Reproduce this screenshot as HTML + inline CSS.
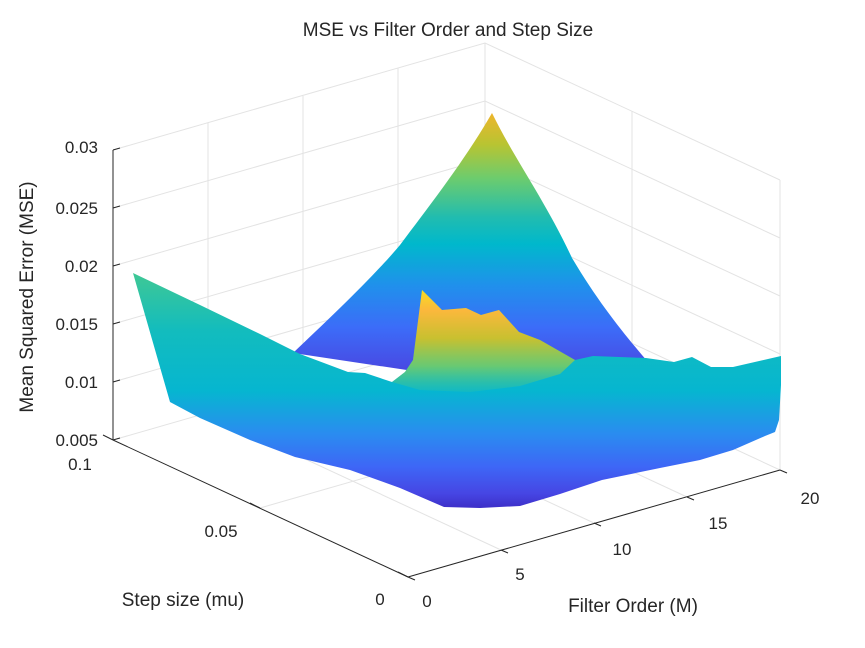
<!DOCTYPE html>
<html><head><meta charset="utf-8"><style>
html,body{margin:0;padding:0;background:#fff;}
svg{display:block;font-family:"Liberation Sans",Arial,sans-serif;}
</style></head><body>
<svg width="865" height="648" viewBox="0 0 865 648" xmlns="http://www.w3.org/2000/svg">
<defs>
<linearGradient id="gf" gradientUnits="userSpaceOnUse" x1="0" y1="272" x2="0" y2="510">
<stop offset="0" stop-color="#40c894"/>
<stop offset="0.25" stop-color="#12bcbe"/>
<stop offset="0.5" stop-color="#06b6d0"/>
<stop offset="0.68" stop-color="#2a8cf0"/>
<stop offset="0.82" stop-color="#3e66f6"/>
<stop offset="0.93" stop-color="#4646e4"/>
<stop offset="1" stop-color="#3c2cc4"/>
</linearGradient>
<linearGradient id="gc" gradientUnits="userSpaceOnUse" x1="0" y1="113" x2="0" y2="375">
<stop offset="0" stop-color="#eeb52c"/>
<stop offset="0.12" stop-color="#b8c432"/>
<stop offset="0.25" stop-color="#6ccc6e"/>
<stop offset="0.4" stop-color="#20bcb0"/>
<stop offset="0.5" stop-color="#00b8cc"/>
<stop offset="0.66" stop-color="#2090ec"/>
<stop offset="0.82" stop-color="#3c6cf8"/>
<stop offset="1" stop-color="#4a44e0"/>
</linearGradient>
<linearGradient id="gb" gradientUnits="userSpaceOnUse" x1="0" y1="288" x2="0" y2="400">
<stop offset="0" stop-color="#f8e020"/>
<stop offset="0.2" stop-color="#fbb83c"/>
<stop offset="0.45" stop-color="#c8c030"/>
<stop offset="0.7" stop-color="#78cc64" stop-opacity="0.85"/>
<stop offset="1" stop-color="#30c4a0" stop-opacity="0"/>
</linearGradient>
</defs>
<g stroke="#e3e3e3" stroke-width="1" fill="none">
<polyline points="113,150 485,43 780,180"/>
<line x1="485" y1="43" x2="485" y2="333"/>
<line x1="780" y1="180" x2="780" y2="470"/>
<line x1="113" y1="150" x2="113" y2="440"/>
<line x1="208" y1="123" x2="208" y2="413"/>
<line x1="303" y1="96" x2="303" y2="386"/>
<line x1="398" y1="68" x2="398" y2="358"/>
<line x1="632" y1="111" x2="632" y2="401"/>
<polyline points="113,440 485,333 780,470"/>
<polyline points="113,382 485,275 780,412"/>
<polyline points="113,324 485,217 780,354"/>
<polyline points="113,266 485,159 780,296"/>
<polyline points="113,208 485,101 780,238"/>
<line x1="260" y1="508" x2="632" y2="401"/>
<line x1="501" y1="550" x2="206" y2="413"/>
<line x1="594" y1="523" x2="299" y2="386"/>
<line x1="687" y1="497" x2="392" y2="360"/>
</g>
<path fill="url(#gc)" d="M 293,353 C 330,318 375,275 400,245 C 430,205 465,160 492,113 C 515,160 545,200 572,258 C 600,305 625,335 648,362 L 560,368 L 420,372 Z"/>
<polygon fill="url(#gf)" points="133,273 200,305 260,334 300,354 348,372 365,373 392,382 405,372 413,360 422,290 442,310 466,308 481,315 499,310 519,332 540,340 575,360 593,356 646,358 674,362 692,357 711,367 733,367 781,356 781,385 779,420 775,432 765,436 733,450 700,460 660,468 602,480 560,494 520,506 480,508 444,507 400,488 350,470 295,457 250,440 200,418 170,402"/>
<polygon fill="url(#gb)" points="392,382 405,372 413,360 422,290 442,310 466,308 481,315 499,310 519,332 540,340 575,360 560,374 520,386 470,392 420,390"/>
<g stroke="#262626" stroke-width="1" fill="none">
<line x1="113" y1="150" x2="113" y2="440"/>
<line x1="113" y1="440" x2="408" y2="577"/>
<line x1="408" y1="577" x2="780" y2="470"/>
<line x1="113" y1="150" x2="120" y2="148"/>
<line x1="113" y1="208" x2="120" y2="206"/>
<line x1="113" y1="266" x2="120" y2="264"/>
<line x1="113" y1="324" x2="120" y2="322"/>
<line x1="113" y1="382" x2="120" y2="380"/>
<line x1="113" y1="440" x2="120" y2="438"/>
<line x1="113" y1="440" x2="103" y2="435"/>
<line x1="260" y1="508" x2="250" y2="503"/>
<line x1="408" y1="577" x2="398" y2="572"/>
<line x1="408" y1="577" x2="415" y2="580"/>
<line x1="501" y1="550" x2="508" y2="553"/>
<line x1="594" y1="523" x2="601" y2="526"/>
<line x1="687" y1="497" x2="694" y2="500"/>
<line x1="780" y1="470" x2="787" y2="473"/>
</g>
<g fill="#262626" font-size="17">
<text x="448" y="36" text-anchor="middle" font-size="19">MSE vs Filter Order and Step Size</text>
<text x="98" y="153" text-anchor="end">0.03</text>
<text x="98" y="214" text-anchor="end">0.025</text>
<text x="98" y="272" text-anchor="end">0.02</text>
<text x="98" y="330" text-anchor="end">0.015</text>
<text x="98" y="388" text-anchor="end">0.01</text>
<text x="98" y="446" text-anchor="end">0.005</text>
<text x="80" y="470" text-anchor="middle">0.1</text>
<text x="221" y="537" text-anchor="middle">0.05</text>
<text x="380" y="605" text-anchor="middle">0</text>
<text x="427" y="607" text-anchor="middle">0</text>
<text x="520" y="580" text-anchor="middle">5</text>
<text x="622" y="555" text-anchor="middle">10</text>
<text x="718" y="529" text-anchor="middle">15</text>
<text x="810" y="504" text-anchor="middle">20</text>
<text x="183" y="606" text-anchor="middle" font-size="19">Step size (mu)</text>
<text x="633" y="612" text-anchor="middle" font-size="19">Filter Order (M)</text>
<text transform="translate(33,297) rotate(-90)" text-anchor="middle" font-size="19">Mean Squared Error (MSE)</text>
</g>
</svg>
</body></html>
